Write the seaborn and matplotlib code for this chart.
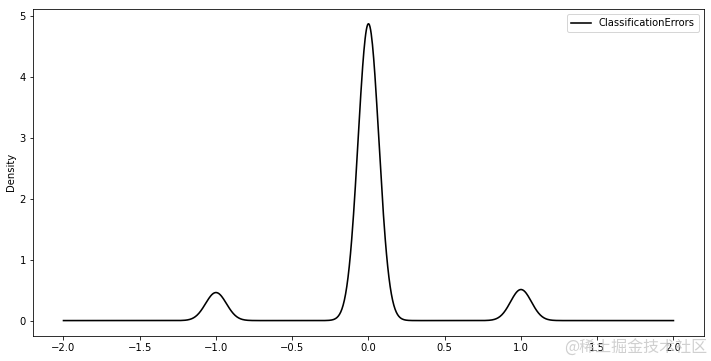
import numpy as np
import pandas as pd
import seaborn as sns
import matplotlib
matplotlib.use("Agg")
import matplotlib.pyplot as plt

# Data: classification error values and their counts (read from peak heights)
error_values = [-1, 0, 1]
error_counts = [594, 6288, 658]
series_name = "ClassificationErrors"

errors = np.repeat(error_values, error_counts)
df = pd.DataFrame({series_name: errors})

plt.rcParams['font.family'] = ['DejaVu Sans', 'Noto Sans CJK SC']

DPI = 72
fig = plt.figure(figsize=(711 / DPI, 361 / DPI), dpi=DPI)
ax = fig.add_axes([0.0464, 0.0706, 0.9437, 0.9044])

sns.kdeplot(data=df, x=series_name, ax=ax, color="black", linewidth=1.6,
            cut=40, clip=(-2, 2), gridsize=1000, label=series_name)

ax.set_xlim(-2.2, 2.2)
ax.set_ylim(-0.245, 5.11)
ax.set_xticks([-2.0, -1.5, -1.0, -0.5, 0.0, 0.5, 1.0, 1.5, 2.0])
ax.set_xlabel("")
ax.set_ylabel("Density")
ax.legend(loc="upper right", fontsize=10)

fig.text(0.995, 0.012, "@稀土掘金技术社区", ha="right", va="bottom",
         fontsize=16, color="#c8c8c8", alpha=0.85,
         family=['Noto Sans CJK SC', 'DejaVu Sans'])

fig.savefig("out.png", dpi=DPI)
